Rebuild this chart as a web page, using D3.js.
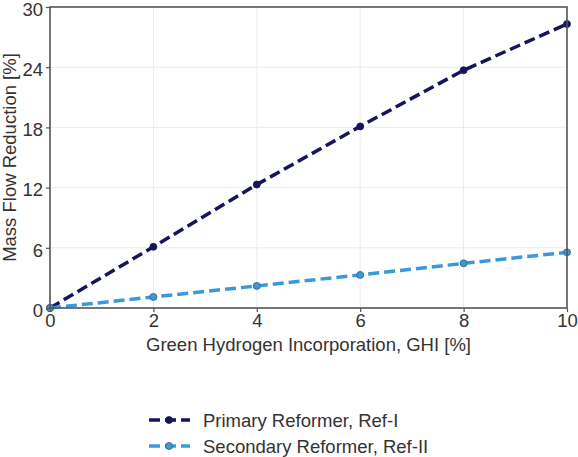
<!DOCTYPE html>
<html><head><meta charset="utf-8">
<script src="https://cdn.jsdelivr.net/npm/d3@7"></script>
<style>body{margin:0;background:#fff;}svg{display:block;font-family:"Liberation Sans",Arial,sans-serif;}</style>
</head><body><svg id="c" width="578" height="457"></svg>
<script>
const ghi = [0, 2, 4, 6, 8, 10];
const primary = [0, 6.1, 12.3, 18.1, 23.7, 28.3];
const secondary = [0, 1.1, 2.2, 3.3, 4.45, 5.55];
const xTicks = [0, 2, 4, 6, 8, 10];
const yTicks = [0, 6, 12, 18, 24, 30];
const seriesNames = ["Primary Reformer, Ref-I", "Secondary Reformer, Ref-II"];
const colors = ["#15155a", "#3a9ad9"];
const edgeColors = ["#15155a", "#2a5f8a"];

const svg = d3.select("#c");
const m = {l: 50, r: 11, t: 7, b: 149};
const W = 578, H = 457;
const x = d3.scaleLinear().domain([0, 10]).range([m.l, W - m.r]);
const y = d3.scaleLinear().domain([0, 30]).range([H - m.b, m.t]);
const FONT = "'Liberation Sans',Arial,sans-serif";

// grid
svg.append("g").selectAll("line").data(xTicks).join("line")
  .attr("x1", d => x(d)).attr("x2", d => x(d)).attr("y1", y(0)).attr("y2", y(30))
  .attr("stroke", "#ececec").attr("stroke-width", 1);
svg.append("g").selectAll("line").data(yTicks).join("line")
  .attr("y1", d => y(d)).attr("y2", d => y(d)).attr("x1", x(0)).attr("x2", x(10))
  .attr("stroke", "#ececec").attr("stroke-width", 1);

// lines
const series = [primary, secondary];
const line = d3.line().x((d, i) => x(ghi[i])).y(d => y(d));
series.forEach((s, k) => {
  svg.append("path").datum(s).attr("d", line).attr("fill", "none")
    .attr("stroke", colors[k]).attr("stroke-width", 3.5).attr("stroke-dasharray", "11,5");
  svg.append("g").selectAll("circle").data(s).join("circle")
    .attr("cx", (d, i) => x(ghi[i])).attr("cy", d => y(d)).attr("r", 3.5)
    .attr("fill", colors[k]).attr("stroke", edgeColors[k]).attr("stroke-width", 0.8);
});

// frame
svg.append("rect").attr("x", x(0)).attr("y", y(30)).attr("width", x(10) - x(0)).attr("height", y(0) - y(30))
  .attr("fill", "none").attr("stroke", "#555").attr("stroke-width", 1.6);

// axes
const xa = svg.append("g").attr("transform", `translate(0,${y(0)})`)
  .call(d3.axisBottom(x).tickValues(xTicks).tickSize(4).tickPadding(3).tickFormat(d3.format("d")));
const ya = svg.append("g").attr("transform", `translate(${x(0)},0)`)
  .call(d3.axisLeft(y).tickValues(yTicks).tickSize(4).tickPadding(3).tickFormat(d3.format("d")));
[xa, ya].forEach(a => {
  a.attr("font-size", null).attr("font-family", null);
  a.select(".domain").remove();
  a.selectAll("line").attr("stroke", "#555").attr("stroke-width", 1.2);
  a.selectAll("text").attr("fill", "#333").style("font-size", "18.5px").style("font-family", FONT);
});
xa.selectAll("text").attr("dy", null).attr("y", 19);
ya.selectAll("text").attr("dy", "0.45em");

// titles
svg.append("text").attr("x", (x(0) + x(10)) / 2).attr("y", 351).attr("text-anchor", "middle")
  .attr("fill", "#333").style("font-size", "18.5px").style("font-family", FONT)
  .text("Green Hydrogen Incorporation, GHI [%]");
svg.append("text").attr("transform", `translate(16,${(y(0) + y(30)) / 2}) rotate(-90)`).attr("text-anchor", "middle")
  .attr("fill", "#333").style("font-size", "18.5px").style("font-family", FONT)
  .text("Mass Flow Reduction [%]");

// legend
const lg = svg.append("g");
seriesNames.forEach((name, k) => {
  const yy = 420 + k * 26;
  lg.append("line").attr("x1", 149).attr("x2", 190).attr("y1", yy).attr("y2", yy)
    .attr("stroke", colors[k]).attr("stroke-width", 3.5).attr("stroke-dasharray", "11,5");
  lg.append("circle").attr("cx", 169).attr("cy", yy).attr("r", 3.5)
    .attr("fill", colors[k]).attr("stroke", edgeColors[k]).attr("stroke-width", 0.8);
  lg.append("text").attr("x", 203).attr("y", yy + 7).attr("fill", "#333")
    .style("font-size", "18.5px").style("font-family", FONT).text(name);
});
</script></body></html>
